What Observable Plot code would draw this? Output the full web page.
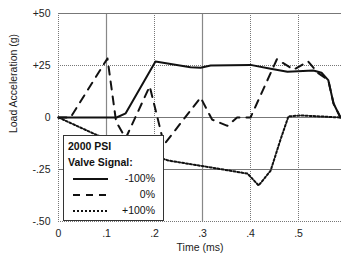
<!DOCTYPE html>
<html><head><meta charset="utf-8">
<script src="https://cdn.jsdelivr.net/npm/d3@7"></script>
<script src="https://cdn.jsdelivr.net/npm/@observablehq/plot@0.6"></script>
<style>
body{margin:0;background:#fff;font-family:"Liberation Sans",Arial,sans-serif;}
#wrap{position:relative;width:341px;height:265px;overflow:hidden;}
#legend{position:absolute;left:63px;top:135px;width:101px;height:86px;background:#fff;border:1px solid #333;box-sizing:border-box;font-size:10.5px;color:#111;}
#legend .h{position:absolute;left:4px;font-weight:bold;}
#legend .r{position:absolute;right:8px;}
#legend svg{position:absolute;left:0;top:0;}
</style></head><body>
<div id="wrap"></div>
<script>
// Data
const solidT = [0, 0.121, 0.14, 0.202, 0.275, 0.296, 0.317, 0.4, 0.442, 0.477, 0.531, 0.548, 0.562, 0.573, 0.5875];
const solidV = [0, 0, 2, 26.9, 24.2, 23.9, 25, 25.3, 23.4, 22, 22.6, 21.5, 18, 6.7, 0];
const dashT = [0, 0.025, 0.102, 0.12, 0.14, 0.19, 0.22, 0.296, 0.32, 0.352, 0.372, 0.4, 0.455, 0.49, 0.52, 0.54, 0.562, 0.573, 0.5875];
const dashV = [0, 0, 28.4, -2, -10, 15, -13, 9.6, -1, -4, 0, 0, 28, 23, 27, 21.5, 18, 6.7, 0];
const dotT = [0, 0.073, 0.15, 0.229, 0.317, 0.394, 0.417, 0.442, 0.462, 0.479, 0.504, 0.5875];
const dotV = [0, -7.7, -15, -20.7, -24, -27, -32.7, -25.5, -11, 0.5, 1, 0];
const xTicks = [0, 0.1, 0.2, 0.3, 0.4, 0.5, 0.6];
const xTickLabels = ["0", ".1", ".2", ".3", ".4", ".5", ".6"];
const yTicks = [50, 25, 0, -25, -50];
const yTickLabels = ["+50", "+25", "0", "-.25", "-.50"];
const gridXSolid = [0.1, 0.3];
const gridXDotted = [0, 0.2, 0.4, 0.5];
const gridYSolid = [50, 0, -25];
const gridYDotted = [25, -50];
const legendTitle = ["2000 PSI", "Valve Signal:"];
const legendLabels = ["-100%", "0%", "+100%"];

const toRows = (T, V) => T.map((t, i) => ({t, v: V[i]}));
const solid = toRows(solidT, solidV), dash = toRows(dashT, dashV), dot = toRows(dotT, dotV);

const chart = Plot.plot({
  width: 341, height: 265,
  marginLeft: 58, marginRight: 0, marginTop: 13, marginBottom: 44,
  style: {fontFamily: "'Liberation Sans', Arial, sans-serif", fontSize: "10px", color: "#222", background: "#fff"},
  x: {domain: [0, 0.6], range: [58, 346], label: null},
  y: {domain: [-50, 50], label: null},
  marks: [
    Plot.ruleX(gridXSolid, {stroke: "#888", strokeWidth: 1.2}),
    Plot.ruleX(gridXDotted, {stroke: "#777", strokeWidth: 1, strokeDasharray: "1,1"}),
    Plot.ruleY(gridYSolid, {stroke: "#777", strokeWidth: 1.2}),
    Plot.ruleY(gridYDotted, {stroke: "#777", strokeWidth: 1, strokeDasharray: "1,1"}),
    Plot.line(dot, {x: "t", y: "v", stroke: "#111", strokeWidth: 2, strokeDasharray: "2,2"}),
    Plot.line(dash, {x: "t", y: "v", stroke: "#111", strokeWidth: 2, strokeDasharray: "8,7"}),
    Plot.line(solid, {x: "t", y: "v", stroke: "#111", strokeWidth: 2}),
    Plot.axisX({ticks: xTicks, tickFormat: d => xTickLabels[xTicks.indexOf(d)] ?? "", tickSize: 0, tickPadding: 8, label: null, fontSize: 10.5}),
    Plot.axisY({ticks: yTicks, tickFormat: d => yTickLabels[yTicks.indexOf(d)] ?? "", tickSize: 0, tickPadding: 8, label: null, fontSize: 10.5}),
    Plot.text(["Time (ms)"], {frameAnchor: "bottom", dy: 29, fontSize: 10.5}),
    Plot.text(["Load Acceleration (g)"], {frameAnchor: "left", dx: -45, dy: -34, rotate: -90, textAnchor: "middle", fontSize: 10.5})
  ]
});
const wrap = document.getElementById("wrap");
wrap.appendChild(chart);

// Legend overlay
const lg = document.createElement("div");
lg.id = "legend";
const styles = [{dash: null}, {dash: "7,6"}, {dash: "2,2"}];
let html = `<div class="h" style="top:4px">${legendTitle[0]}</div><div class="h" style="top:20px">${legendTitle[1]}</div>`;
let svg = `<svg width="101" height="86">`;
legendLabels.forEach((l, i) => {
  const y = 43 + i * 16;
  html += `<div class="r" style="top:${y - 7}px">${l}</div>`;
  svg += `<line x1="9" x2="44" y1="${y}" y2="${y}" stroke="#111" stroke-width="2" ${styles[i].dash ? `stroke-dasharray="${styles[i].dash}"` : ""}/>`;
});
svg += `</svg>`;
lg.innerHTML = svg + html;
wrap.appendChild(lg);
</script>
</body></html>
